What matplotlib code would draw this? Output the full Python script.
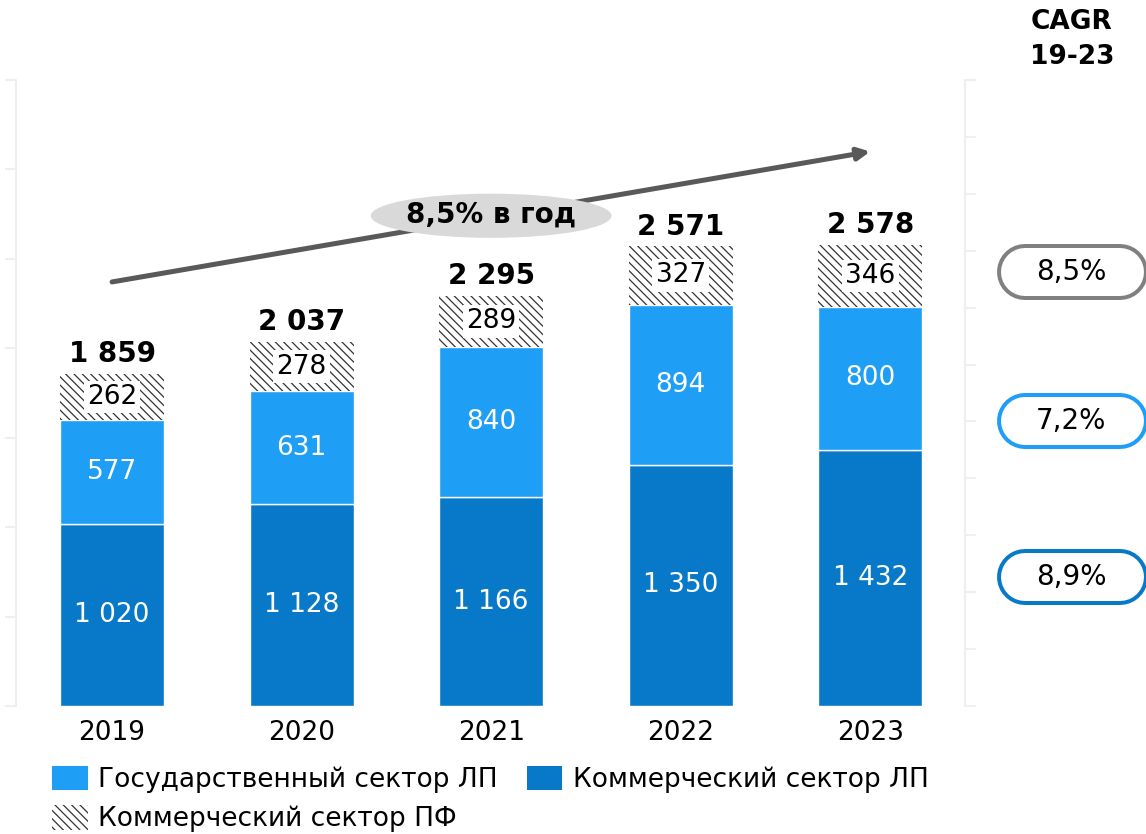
import matplotlib
matplotlib.use('Agg')
import matplotlib.pyplot as plt
import numpy as np
from matplotlib.patches import Ellipse, Patch

years = ['2019', '2020', '2021', '2022', '2023']
comm_lp = [1020, 1128, 1166, 1350, 1432]
gov_lp = [577, 631, 840, 894, 800]
comm_pf = [262, 278, 289, 327, 346]
totals = [1859, 2037, 2295, 2571, 2578]

cagr_labels = ['8,5%', '7,2%', '8,9%']
trend_label = '8,5% в год'
legend_labels = ['Государственный сектор ЛП', 'Коммерческий сектор ЛП', 'Коммерческий сектор ПФ']

light = '#1E9EF5'
dark = '#0879C9'
gray = '#808080'
hatch = '\\\\\\\\'

plt.rcParams['font.family'] = ['DejaVu Sans']
plt.rcParams['hatch.linewidth'] = 0.9


def fmt(v):
    return f'{v:,}'.replace(',', ' ')


fig = plt.figure(figsize=(11.46, 8.34), dpi=100)
ax = fig.add_axes([16 / 1146, 128 / 834, 949 / 1146, 626 / 834])

x = np.arange(len(years))
w = 0.55
bottom2 = np.array(comm_lp)
bottom3 = bottom2 + np.array(gov_lp)

ax.bar(x, comm_lp, w, color=dark, edgecolor='white', linewidth=1, zorder=2)
ax.bar(x, gov_lp, w, bottom=bottom2, color=light, edgecolor='white', linewidth=1, zorder=2)
ax.bar(x, comm_pf, w, bottom=bottom3, color='white', edgecolor='#333333',
       hatch=hatch, linewidth=0, zorder=2)

for i in range(len(years)):
    ax.text(x[i], comm_lp[i] / 2, fmt(comm_lp[i]), ha='center', va='center',
            color='white', fontsize=19, zorder=5)
    ax.text(x[i], bottom2[i] + gov_lp[i] / 2, fmt(gov_lp[i]), ha='center', va='center',
            color='white', fontsize=19, zorder=5)
    ax.text(x[i], bottom3[i] + comm_pf[i] / 2, fmt(comm_pf[i]), ha='center', va='center',
            color='black', fontsize=19, zorder=5,
            bbox=dict(boxstyle='square,pad=0.12', facecolor='white', edgecolor='none'))
    ax.annotate(fmt(totals[i]), (x[i], totals[i]), xytext=(0, 4), textcoords='offset points',
                ha='center', va='bottom', fontsize=20, fontweight='bold', zorder=5)

# trend arrow with the ellipse label
ax.annotate('', xy=(4, 3100), xytext=(0, 2371),
            arrowprops=dict(arrowstyle='-|>', color='#595959', lw=3.6, mutation_scale=18,
                            shrinkA=0, shrinkB=0), zorder=3)
ax.add_patch(Ellipse((2, 2741), 1.27, 247, facecolor='#D9D9D9', edgecolor='none', zorder=4))
ax.text(2, 2745, trend_label, ha='center', va='center', fontsize=20, fontweight='bold', zorder=5)

ax.set_xlim(-0.507, 4.5)
ax.set_ylim(0, 3500)
ax.set_yticks(range(0, 3501, 500))
ax.set_yticklabels([])
ax.tick_params(axis='y', color='#EFEFEF', length=8, width=1.5)
ax.set_xticks(x, years)
ax.tick_params(axis='x', length=0, pad=10, labelsize=19)
for s in ['top', 'right', 'bottom']:
    ax.spines[s].set_visible(False)
ax.spines['left'].set_color('#EFEFEF')
ax.spines['left'].set_linewidth(1.5)

ax2 = ax.twinx()
ax2.set_ylim(0, 11)
ax2.set_yticks(range(12))
ax2.set_yticklabels([])
ax2.tick_params(axis='y', color='#EFEFEF', length=8, width=1.5)
for s in ['top', 'left', 'bottom']:
    ax2.spines[s].set_visible(False)
ax2.spines['right'].set_color('#EFEFEF')
ax2.spines['right'].set_linewidth(1.5)

# overlay in pixel units for the CAGR column
ov = fig.add_axes([0, 0, 1, 1])
ov.set_xlim(0, 1146)
ov.set_ylim(834, 0)
ov.axis('off')
ov.patch.set_alpha(0)

ov.text(1072, 22, 'CAGR', ha='center', va='center', fontsize=19, fontweight='bold')
ov.text(1072, 57, '19-23', ha='center', va='center', fontsize=19, fontweight='bold')

# stadium-shaped pills: thick round-capped line with a white line inside
pill_y = [272, 421, 577]
pill_colors = [gray, light, dark]
for lab, col, yc in zip(cagr_labels, pill_colors, pill_y):
    ov.plot([1025, 1120], [yc, yc], color=col, lw=56 * 0.72, solid_capstyle='round')
    ov.plot([1025, 1120], [yc, yc], color='white', lw=48 * 0.72, solid_capstyle='round')
    ov.text(1071, yc, lab, ha='center', va='center', fontsize=20)

handles = [Patch(facecolor=light, edgecolor='none'),
           Patch(facecolor='white', edgecolor='#333333', hatch=hatch, linewidth=0),
           Patch(facecolor=dark, edgecolor='none')]
labels = [legend_labels[0], legend_labels[2], legend_labels[1]]
fig.legend(handles, labels, ncol=2, loc='upper left', bbox_to_anchor=(52 / 1146, 68 / 834),
           frameon=False, fontsize=19, handlelength=1.35, handleheight=1.05,
           handletextpad=0.4, columnspacing=1.1, labelspacing=0.45,
           borderaxespad=0, borderpad=0)

fig.savefig('out.png', dpi=100)
